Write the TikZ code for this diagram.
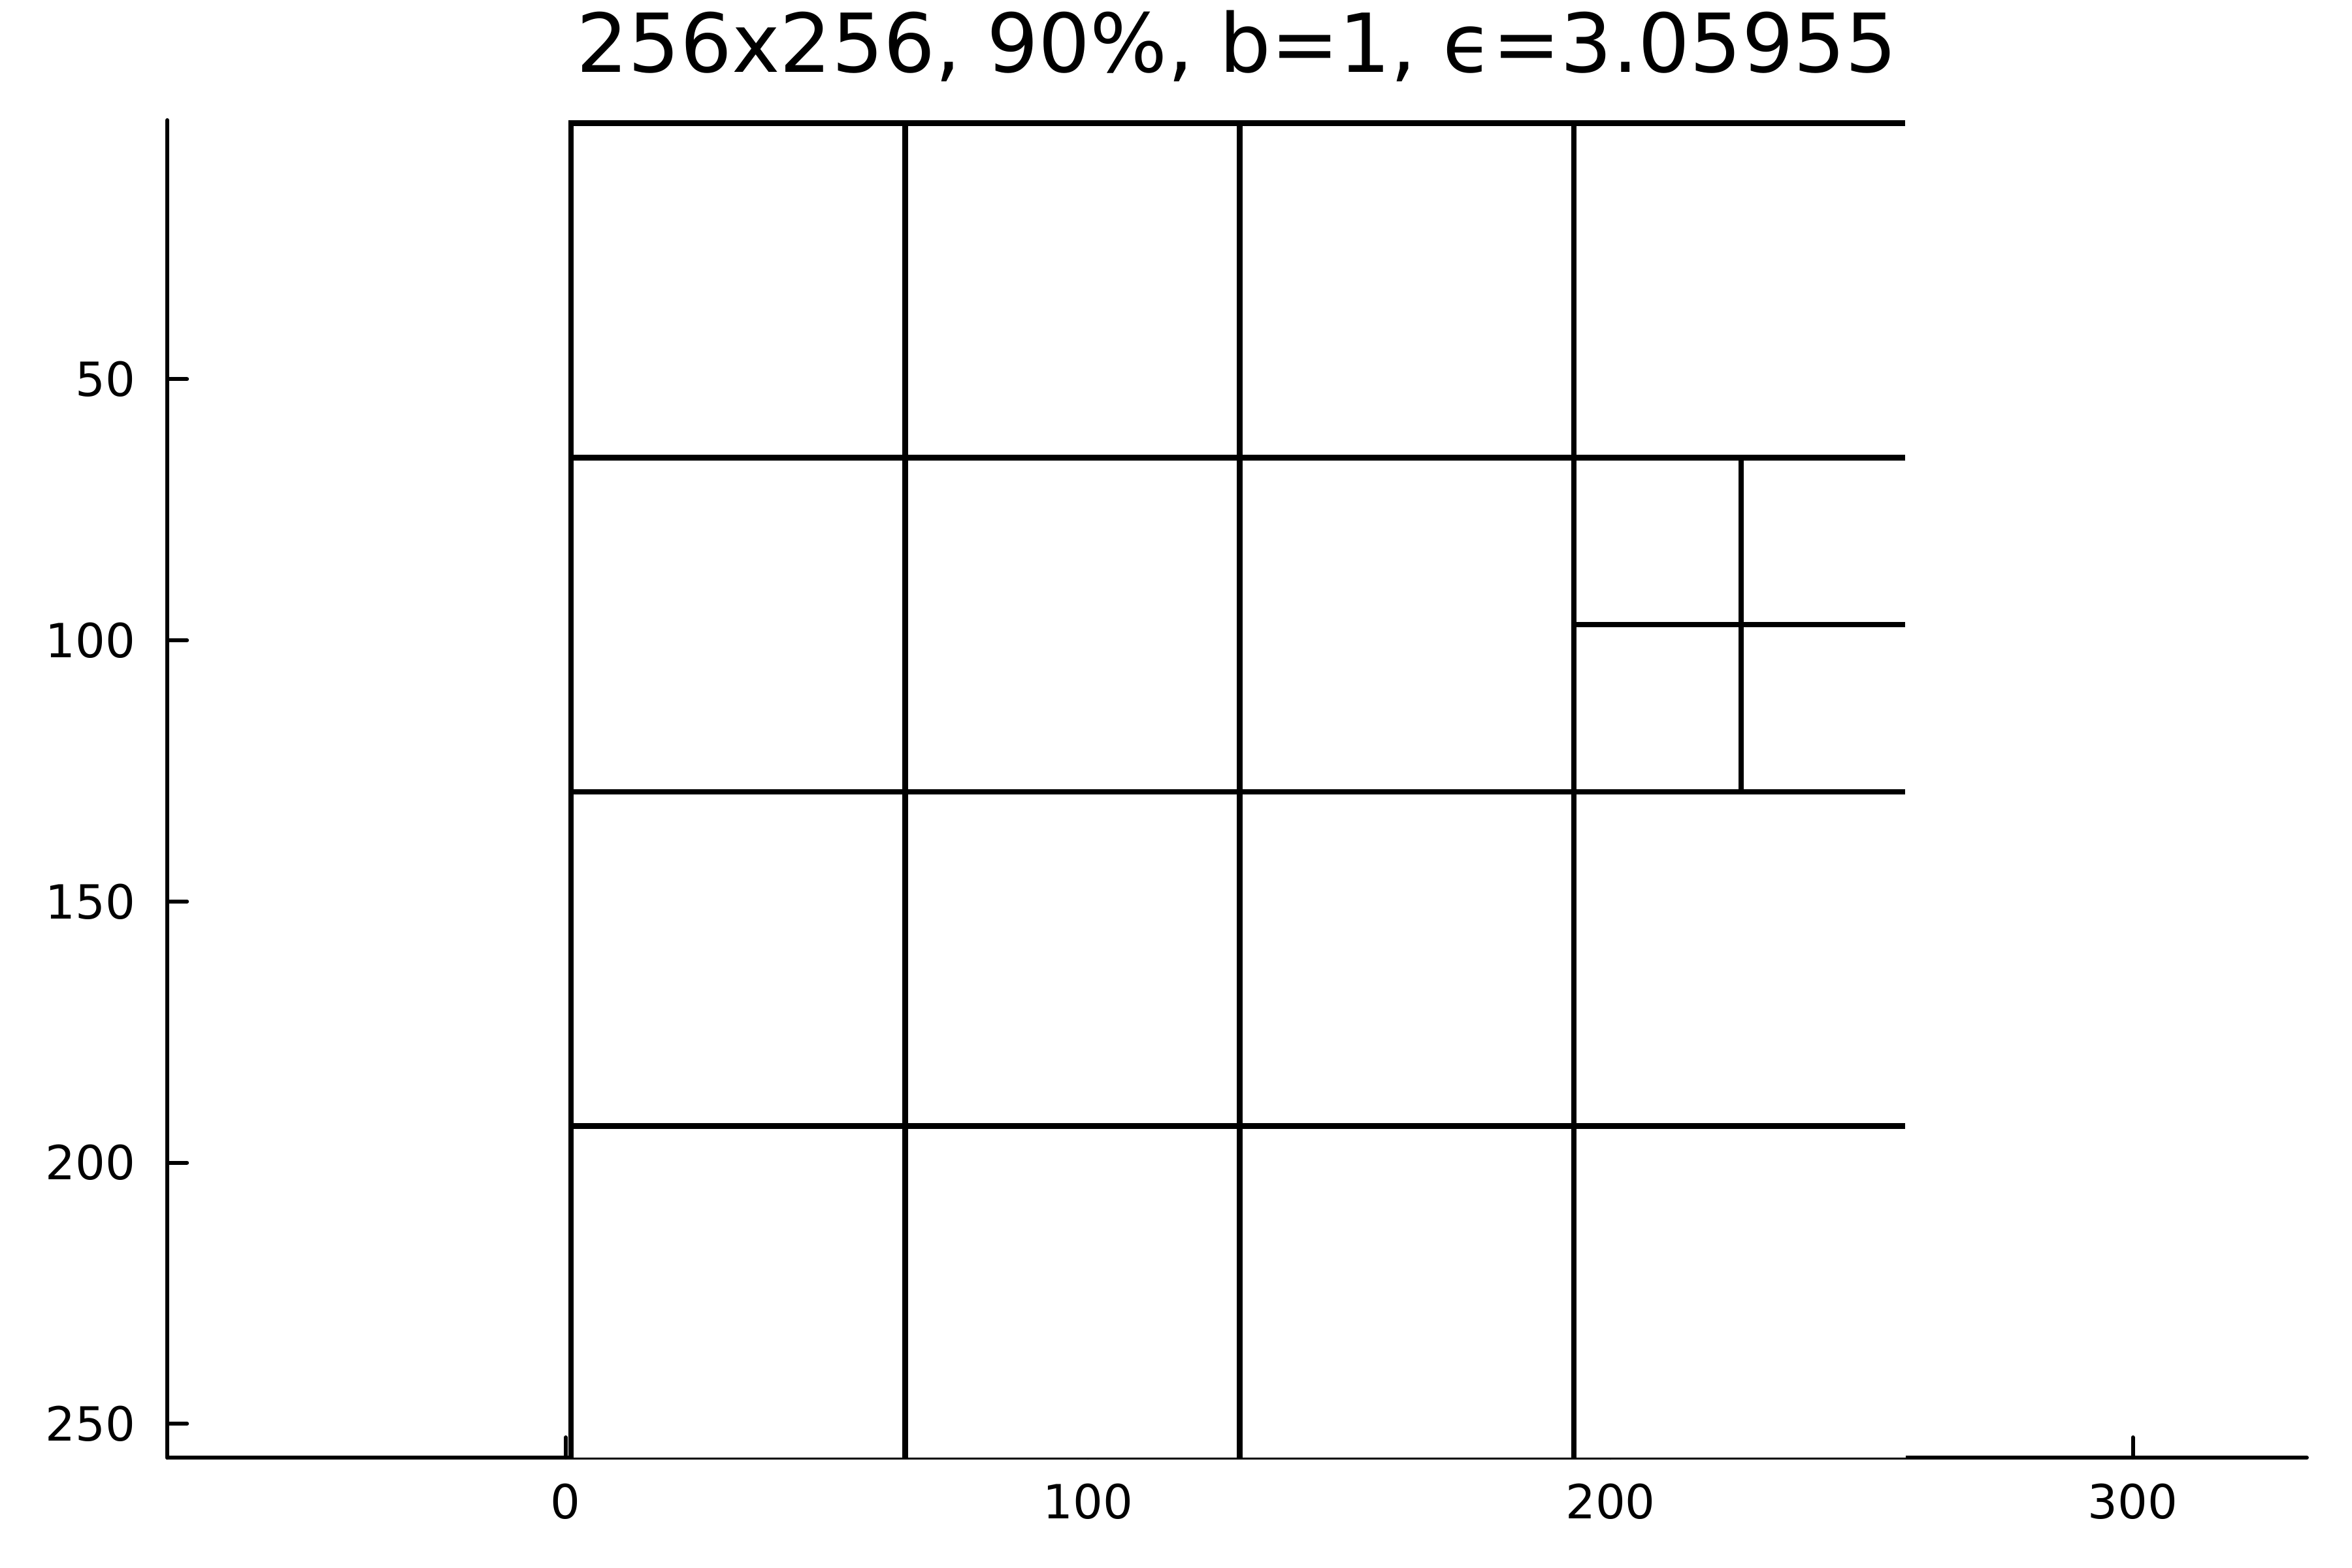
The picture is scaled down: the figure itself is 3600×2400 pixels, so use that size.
\documentclass[tikz,border=0pt]{standalone}
\usepackage{fontspec}
\setmainfont{DejaVu Sans}
\begin{document}
\begin{tikzpicture}[x=0.01cm,y=-0.01cm,
  gridline/.style={line width=0.087cm, line cap=butt, line join=miter},
  axisline/.style={line width=0.06cm, line cap=round},
  tickmark/.style={line width=0.06cm, line cap=round},
  ticklabel/.style={inner sep=0pt, anchor=base east, font=\fontsize{20.5pt}{24pt}\selectfont},
  xticklabel/.style={inner sep=0pt, anchor=base, font=\fontsize{20.5pt}{24pt}\selectfont},
  titlelabel/.style={inner sep=0pt, anchor=base, font=\fontsize{35.4pt}{42pt}\selectfont}]
\useasboundingbox (0,0) rectangle (3600,2400);
\fill[white] (0,0) rectangle (3600,2400);
\begin{scope}[shift={(8.654cm,-1.806cm)}, x=0.07991cm, y=-0.0799cm]
  % axes
  \draw[axisline] (-76.26,256.5) -- (333.3,256.5);
  \draw[axisline] (-76.26,0.4) -- (-76.26,256.5);
  % y ticks
  \foreach \v in {50,100,150,200,250}{
    \draw[tickmark] (-76.26,\v) -- (-72.5,\v);
    \node[ticklabel] (ylab\v) at (-82.3,\v+3.28) {\v};
  }
  % x ticks
  \foreach \u in {0,100,200,300}{
    \draw[tickmark] (\u,256.5) -- (\u,252.6);
    \node[xticklabel] (xlab\u) at (\u,268.2) {\u};
  }
  % white image area
  \fill[white] (0.5,0.5) rectangle (256.5,256.5);
  % grid of blocks
  \begin{scope}
    \clip (-80,0.2) rectangle (340,256.5);
    \draw[gridline] (256.4,1) -- (1,1) -- (1,257);
    \foreach \v in {65,129,193}{
      \draw[gridline] (1,\v) -- (256.4,\v);
    }
    \foreach \u in {65,129,193}{
      \draw[gridline] (\u,1) -- (\u,257);
    }
    \draw[gridline] (193,97) -- (256.4,97);
    \draw[gridline] (225,65) -- (225,129);
  \end{scope}
  % title
  \node[titlelabel] (title) at (128.5,-8.84) {256x256, 90\%, b=1, ϵ=3.05955};
\end{scope}
\end{tikzpicture}
\end{document}
